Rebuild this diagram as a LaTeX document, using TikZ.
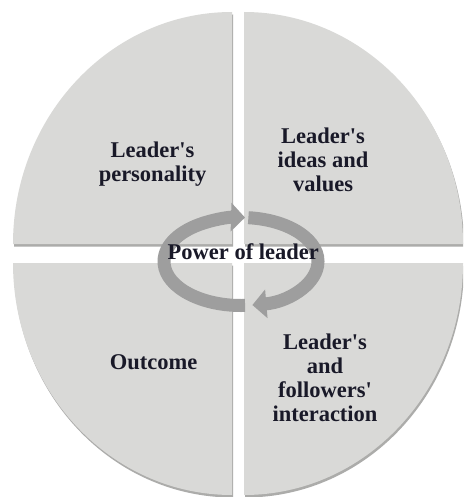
\documentclass[tikz,border=0pt]{standalone}
\usepackage{fontspec}
\newfontfamily\lblfont{Liberation Serif}
\usetikzlibrary{arrows.meta}
\definecolor{quadfill}{RGB}{217,217,215}
\definecolor{quadshadow}{RGB}{172,172,170}
\definecolor{ringgray}{RGB}{158,158,158}
\definecolor{txt}{RGB}{25,25,40}
\begin{document}
\begin{tikzpicture}[x=1pt,y=1pt,
  quad/.style={fill=quadfill,draw=none},
  qshadow/.style={fill=quadshadow,draw=none},
  lbl/.style={font=\lblfont\bfseries\fontsize{22.5}{24}\selectfont,text=txt,align=center,anchor=base,inner sep=0pt},
  ring/.style={draw=ringgray,line width=13pt,-{Triangle[width=28pt,length=14pt]}}]
\useasboundingbox (0,0) rectangle (463,-497);
\fill[white] (0,0) rectangle (463,-497);
\begin{scope}
\clip (0,0) rectangle (463,-497);
% shadows
\begin{scope}[shift={(1,-2.5)}]
\path[qshadow] (232,-244) -- ++(-219,0) arc[start angle=180,end angle=90,x radius=219,y radius=232] -- cycle;
\path[qshadow] (244,-244) -- ++(0,232) arc[start angle=90,end angle=0,x radius=219,y radius=232] -- cycle;
\path[qshadow] (232,-263) -- ++(-219,0) arc[start angle=180,end angle=270,x radius=219,y radius=232] -- cycle;
\path[qshadow] (244,-263) -- ++(219,0) arc[start angle=0,end angle=-90,x radius=219,y radius=232] -- cycle;
\end{scope}
% quadrants
\path[quad] (232,-244) -- ++(-219,0) arc[start angle=180,end angle=90,x radius=219,y radius=232] -- cycle;
\path[quad] (244,-244) -- ++(0,232) arc[start angle=90,end angle=0,x radius=219,y radius=232] -- cycle;
\path[quad] (232,-263) -- ++(-219,0) arc[start angle=180,end angle=270,x radius=219,y radius=232] -- cycle;
\path[quad] (244,-263) -- ++(219,0) arc[start angle=0,end angle=-90,x radius=219,y radius=232] -- cycle;
\end{scope}
% circular arrows
\coordinate (c) at (241,-261.5);
\draw[ring] ([shift={(273:77 and 44)}]c) arc[start angle=273,end angle=87,x radius=77,y radius=44];
\draw[ring] ([shift={(84.5:77 and 44)}]c) arc[start angle=84.5,end angle=-81.5,x radius=77,y radius=44];
% labels (anchor = baseline of last line)
\node[lbl] (tl) at (152.5,-181.7) {Leader's\\personality};
\node[lbl] (tr) at (323,-191.7) {Leader's\\ideas and\\values};
\node[lbl] (bl) at (153.5,-369.3) {Outcome};
\node[lbl] (br) at (325,-421.7) {Leader's\\and\\followers'\\interaction};
\node[lbl] (center) at (243.3,-259.3) {Power of leader};
\end{tikzpicture}
\end{document}
